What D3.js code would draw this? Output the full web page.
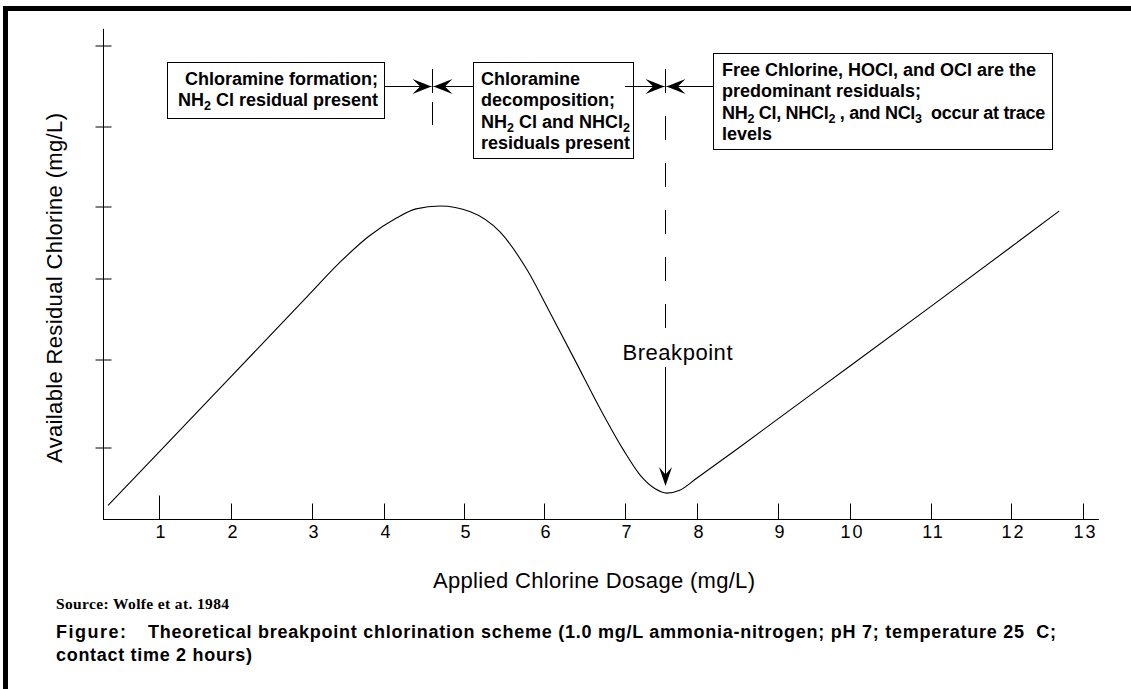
<!DOCTYPE html>
<html>
<head>
<meta charset="utf-8">
<script src="https://d3js.org/d3.v7.min.js"></script>
<style>
  body { margin: 0; background: #fff; overflow: hidden; }
  svg { display: block; }
  text { fill: #000; white-space: pre; }
</style>
</head>
<body>
<script>
// applied dose (mg/L) and residual (in y tick units)
var doses     = [0.09, 1.0, 2.0, 2.94, 3.39, 3.79, 4.15, 4.4, 4.7, 5.08, 5.45, 5.79,
                 6.07, 6.38, 6.69, 6.98, 7.21, 7.42, 7.58, 7.76, 8.0, 8.53, 9.0, 10.0, 11.0, 12.0, 12.67];
var residuals = [0.19, 0.93, 1.8, 2.77, 3.22, 3.58, 3.83, 3.96, 4.0, 3.92, 3.64, 3.11,
                 2.58, 1.99, 1.44, 0.96, 0.61, 0.42, 0.36, 0.40, 0.57, 1.0, 1.32, 1.92, 2.65, 3.43, 3.93];

var xTicks = d3.range(1, 14);
var yTicks = [1, 2, 3, 4, 5, 6];

// dose where each residual zone ends, and the breakpoint
var zoneBounds = [4.6, 7.56];
var breakpoint = {dose: 7.56, residual: 0.46};

var box1Lines = ["Chloramine formation;", "NH{2} Cl residual present"];
var box2Lines = ["Chloramine", "decomposition;", "NH{2} Cl and NHCl{2}", "residuals present"];
var box3Lines = ["Free Chlorine, HOCl, and OCl are the", "predominant residuals;",
                 "NH{2} Cl, NHCl{2} , and NCl{3}  occur at trace", "levels"];

var w = 1131;
var h = 689;

var svg = d3.select("body")
            .append("svg")
            .attr("width", w)
            .attr("height", h);

//frame (only left and top edges show)
svg.append("rect")
    .attr("x", 5.5).attr("y", 8.5)
    .attr("width", 1200).attr("height", 800)
    .attr("fill", "none").attr("stroke", "#000").attr("stroke-width", 5);

//the original axes are hand drawn, ticks are not evenly spaced
var xScale = d3.scaleLinear()
            .domain(d3.range(0, 14))
            .range([103, 159, 231, 312, 384, 464, 544, 625, 697, 778, 850, 931, 1011, 1083]);

var yScale = d3.scaleLinear()
            .domain(d3.range(0, 7))
            .range([519, 447, 359, 278, 206, 126, 45]);

var x0 = xScale(0), yBase = yScale(0);

//axis lines
svg.append("line")
    .attr("x1", x0).attr("y1", yBase + 0.5)
    .attr("x2", xScale(13.22)).attr("y2", yBase + 0.5)
    .attr("stroke", "#000");
svg.append("line")
    .attr("x1", x0 + 0.5).attr("y1", yScale(6.2))
    .attr("x2", x0 + 0.5).attr("y2", yBase)
    .attr("stroke", "#000");

//X axis ticks point up into the plot
var xAxis = svg.append("g")
    .attr("transform", "translate(0," + (yBase + 0.5) + ")")
    .call(d3.axisBottom(xScale).tickValues(xTicks).tickSizeInner(-16).tickSizeOuter(0).tickPadding(6));
xAxis.select(".domain").remove();
xAxis.selectAll(".tick line").attr("stroke", "#000")
    .attr("y2", function(d){ return d == 1 ? -24 : -16; });
xAxis.selectAll(".tick text")
    .attr("font-family", "Liberation Sans, Arial, sans-serif")
    .attr("font-size", 18)
    .attr("letter-spacing", 2)
    .attr("dx", 2)
    .attr("fill", "#000");

//Y axis ticks cross the axis line, no labels
var yAxis = svg.append("g")
    .attr("transform", "translate(" + (x0 + 8.5) + ",0.5)")
    .call(d3.axisLeft(yScale).tickValues(yTicks).tickSize(16).tickFormat(""));
yAxis.select(".domain").remove();
yAxis.selectAll(".tick line").attr("stroke", "#000");

//the breakpoint curve
var curve = d3.line()
    .x(function(d){ return xScale(d[0]); })
    .y(function(d){ return yScale(d[1]); })
    .curve(d3.curveMonotoneX);

svg.append("path")
    .datum(d3.zip(doses, residuals))
    .attr("fill", "none")
    .attr("stroke", "#000")
    .attr("stroke-width", 1.1)
    .attr("d", curve);

//axis titles
svg.append("text")
    .attr("x", 433).attr("y", 588)
    .attr("font-family", "Liberation Sans, Arial, sans-serif")
    .attr("font-size", 22)
    .attr("textLength", 322)
    .text("Applied Chlorine Dosage (mg/L)");

svg.append("text")
    .attr("transform", "translate(62,288) rotate(-90)")
    .attr("text-anchor", "middle")
    .attr("font-family", "Liberation Sans, Arial, sans-serif")
    .attr("font-size", 22)
    .attr("textLength", 350)
    .text("Available Residual Chlorine (mg/L)");

//arrow heads, barbed like the original
function arrowHead(x, y, angle, len, half){
    svg.append("path")
        .attr("transform", "translate(" + x + "," + y + ") rotate(" + angle + ")")
        .attr("d", "M0,0 L" + (-len) + "," + (-half) + " L" + (-len * 0.6) + ",0 L" + (-len) + "," + half + "Z")
        .attr("fill", "#000");
}

function hline(xa, xb, y){
    svg.append("line")
        .attr("x1", xa).attr("x2", xb).attr("y1", y).attr("y2", y)
        .attr("stroke", "#000");
}

//text boxes, {n} marks a subscript
function addLines(tx, ty, lines, anchor){
    var t = svg.append("text")
        .attr("font-family", "Liberation Sans, Arial, sans-serif")
        .attr("font-weight", "bold")
        .attr("font-size", 18)
        .attr("text-anchor", anchor);
    lines.forEach(function(line, i){
        var parts = line.split(/\{(\d)\}/);
        parts.forEach(function(p, j){
            var ts = t.append("tspan").attr("class", "ln" + i).text(p);
            if (j == 0) ts.attr("x", tx).attr("y", ty + i * 21.3);
            if (j % 2 == 1) ts.attr("font-size", 12.5).attr("dy", 4);
            else if (j > 0) ts.attr("dy", -4);
        });
    });
    return t;
}

function box(x, y, bw, bh){
    svg.append("rect")
        .attr("x", x + 0.5).attr("y", y + 0.5)
        .attr("width", bw).attr("height", bh)
        .attr("fill", "#fff").attr("stroke", "#000");
}

var arrowY = 86.5;
var d1 = Math.round(xScale(zoneBounds[0])) + 0.5;
var d2 = Math.round(xScale(zoneBounds[1])) + 0.5;

box(167, 62, 217, 56);
addLines(378, 85, box1Lines, "end");

box(473, 62, 160, 96);
addLines(481, 85, box2Lines, "start");

box(713, 53, 339, 96);
addLines(722, 76, box3Lines, "start")
    .selectAll(".ln2").attr("letter-spacing", -0.3);

//zone dividers
hline(384, d1 - 1, arrowY);
hline(d1 + 1, 473, arrowY);
arrowHead(d1 - 1, arrowY, 0, 19, 7.5);
arrowHead(d1 + 1, arrowY, 180, 19, 7.5);
svg.append("line")
    .attr("x1", d1).attr("x2", d1).attr("y1", 69).attr("y2", 125)
    .attr("stroke", "#000").attr("stroke-dasharray", "24,9");

hline(625, d2 - 1, arrowY);
hline(d2 + 1, 713, arrowY);
arrowHead(d2 - 1, arrowY, 0, 19, 7.5);
arrowHead(d2 + 1, arrowY, 180, 19, 7.5);
svg.append("line")
    .attr("x1", d2).attr("x2", d2).attr("y1", 69).attr("y2", 335)
    .attr("stroke", "#000").attr("stroke-dasharray", "24,23");

//breakpoint label and arrow
var bx = Math.round(xScale(breakpoint.dose)) + 0.5;
var by = yScale(breakpoint.residual);
svg.append("text")
    .attr("x", bx + 12).attr("y", 360)
    .attr("text-anchor", "middle")
    .attr("font-family", "Liberation Sans, Arial, sans-serif")
    .attr("font-size", 22)
    .attr("textLength", 110)
    .text("Breakpoint");
svg.append("line")
    .attr("x1", bx).attr("x2", bx).attr("y1", 367).attr("y2", by - 8)
    .attr("stroke", "#000");
arrowHead(bx, by, 90, 19, 6.5);

//source and caption
svg.append("text")
    .attr("x", 56).attr("y", 609)
    .attr("font-family", "Liberation Serif, Times New Roman, serif")
    .attr("font-weight", "bold")
    .attr("font-size", 15.5)
    .attr("textLength", 173)
    .text("Source: Wolfe et at. 1984");

var cap = svg.append("g")
    .attr("font-family", "Liberation Sans, Arial, sans-serif")
    .attr("font-weight", "bold")
    .attr("font-size", 18);
cap.append("text").attr("x", 56).attr("y", 638).attr("textLength", 70).text("Figure:");
cap.append("text").attr("x", 148).attr("y", 638).attr("textLength", 908)
    .text("Theoretical breakpoint chlorination scheme (1.0 mg/L ammonia-nitrogen; pH 7; temperature 25  C;");
cap.append("text").attr("x", 56).attr("y", 661).attr("textLength", 196)
    .text("contact time 2 hours)");
</script>
</body>
</html>
